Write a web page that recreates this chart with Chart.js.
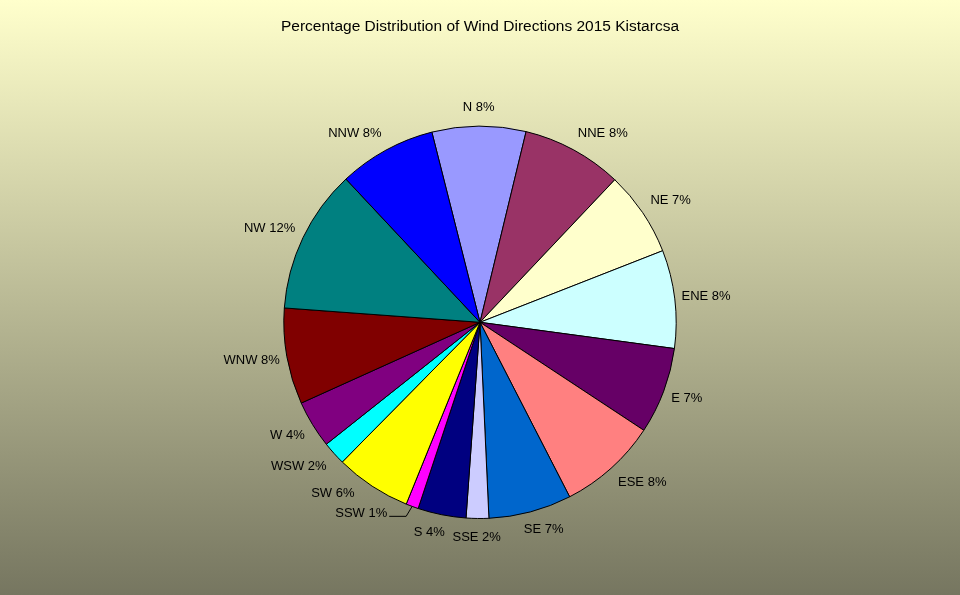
<!DOCTYPE html>
<html>
<head>
<meta charset="utf-8">
<script src="https://cdn.jsdelivr.net/npm/chart.js@4/dist/chart.umd.min.js"></script>
<style>
  html, body { margin: 0; padding: 0; background: #fff; }
  #chart { display: block; }
</style>
</head>
<body>
<canvas id="chart" width="960" height="595"></canvas>
<script>
// Wind direction shares (percent)
const directions = ["N", "NNE", "NE", "ENE", "E", "ESE", "SE", "SSE",
  "S", "SSW", "SW", "WSW", "W", "WNW", "NW", "NNW"];
const shares = [7.72, 8.28, 7.0, 8.08, 7.14, 8.17, 6.83, 1.86,
  3.97, 1.03, 6.25, 1.94, 3.92, 7.92, 11.86, 8.03];
const sliceColors = ["#9999FF", "#993366", "#FFFFCC", "#CCFFFF", "#660066", "#FF8080", "#0066CC", "#CCCCFF",
  "#000080", "#FF00FF", "#FFFF00", "#00FFFF", "#800080", "#800000", "#008080", "#0000FF"];
const chartTitle = "Percentage Distribution of Wind Directions 2015 Kistarcsa";

const FONT = '"Liberation Sans", Arial, sans-serif';

// Paints the yellow-to-olive gradient behind everything
const backdrop = {
  id: "backdrop",
  beforeDraw(chart) {
    const ctx = chart.ctx;
    let grad = ctx.createLinearGradient(0, 0, 0, chart.height);
    grad.addColorStop(0, "#FFFFCC");
    grad.addColorStop(1, "#767660");
    ctx.save();
    ctx.fillStyle = grad;
    ctx.fillRect(0, 0, chart.width, chart.height);
    ctx.restore();
  },
};

function clamp(v) {
  return Math.max(-1, Math.min(1, v));
}

// Box for a label sitting just outside the pie at angle a
function labelBox(arc, a, w, h) {
  const c = Math.cos(a), s = Math.sin(a);
  const r = arc.outerRadius + 6 + 6 * Math.abs(s);
  const cx = arc.x + r * c + (w / 2) * clamp(2 * c);
  const cy = arc.y + r * s + (h / 2) * clamp(2 * s);
  return { cx: cx, cy: cy, l: cx - w / 2, r: cx + w / 2, t: cy - h / 2, b: cy + h / 2 };
}

// padX / padY: room kept free round each label
function overlaps(p, q, padX, padY) {
  return !(q.l - padX > p.r + padX || q.r + padX < p.l - padX ||
    q.t - padY > p.b + padY || q.b + padY < p.t - padY);
}

// Draws "DIR n%" labels round the pie, nudging crowded ones clockwise
const sliceLabels = {
  id: "sliceLabels",
  afterDatasetsDraw(chart) {
    const ctx = chart.ctx;
    const meta = chart.getDatasetMeta(0);
    ctx.save();
    ctx.font = "13px " + FONT;
    ctx.fillStyle = "#000";
    ctx.strokeStyle = "#000";
    ctx.lineWidth = 1;
    ctx.textAlign = "center";
    ctx.textBaseline = "middle";
    const placed = [];
    meta.data.forEach((arc, i) => {
      const text = directions[i] + " " + Math.round(shares[i]) + "%";
      const w = ctx.measureText(text).width;
      const h = 13;
      const mid = (arc.startAngle + arc.endAngle) / 2;
      let a = mid;
      let box = labelBox(arc, a, w, h);
      // a label pushed off its slice keeps room for the leader line
      const crowded = () => {
        const padX = a > arc.endAngle ? 12 : 3;
        return placed.some((p) => overlaps(p, box, padX, 3));
      };
      for (let k = 0; k < 60 && crowded(); k++) {
        a += Math.PI / 180;
        box = labelBox(arc, a, w, h);
      }
      placed.push(box);
      ctx.fillText(text, box.cx, box.cy);

      if (a > arc.endAngle) {
        const ex = arc.x + arc.outerRadius * Math.cos(mid);
        const ey = arc.y + arc.outerRadius * Math.sin(mid);
        ctx.beginPath();
        ctx.moveTo(ex, ey);
        ctx.lineTo(ex - 6, box.cy + 3);
        ctx.lineTo(box.r + 2, box.cy + 3);
        ctx.stroke();
      }
    });
    ctx.restore();
  },
};

let ctx = document.getElementById("chart").getContext("2d");

let chart = new Chart(ctx, {
  type: "pie",
  data: {
    labels: directions,
    datasets: [
      {
        data: shares,
        backgroundColor: sliceColors,
        borderColor: "#000",
        borderWidth: 1,
      },
    ],
  },
  options: {
    responsive: false,
    animation: false,
    rotation: -14.2,
    layout: { padding: { top: 0, bottom: 76, left: 0, right: 0 } },
    plugins: {
      title: {
        display: true,
        text: chartTitle,
        color: "#000",
        font: { family: FONT, size: 15.5, weight: "normal", lineHeight: 1.2 },
        padding: { top: 17, bottom: 90 },
      },
      legend: { display: false },
      tooltip: { enabled: false },
    },
  },
  plugins: [backdrop, sliceLabels],
});
</script>
</body>
</html>
